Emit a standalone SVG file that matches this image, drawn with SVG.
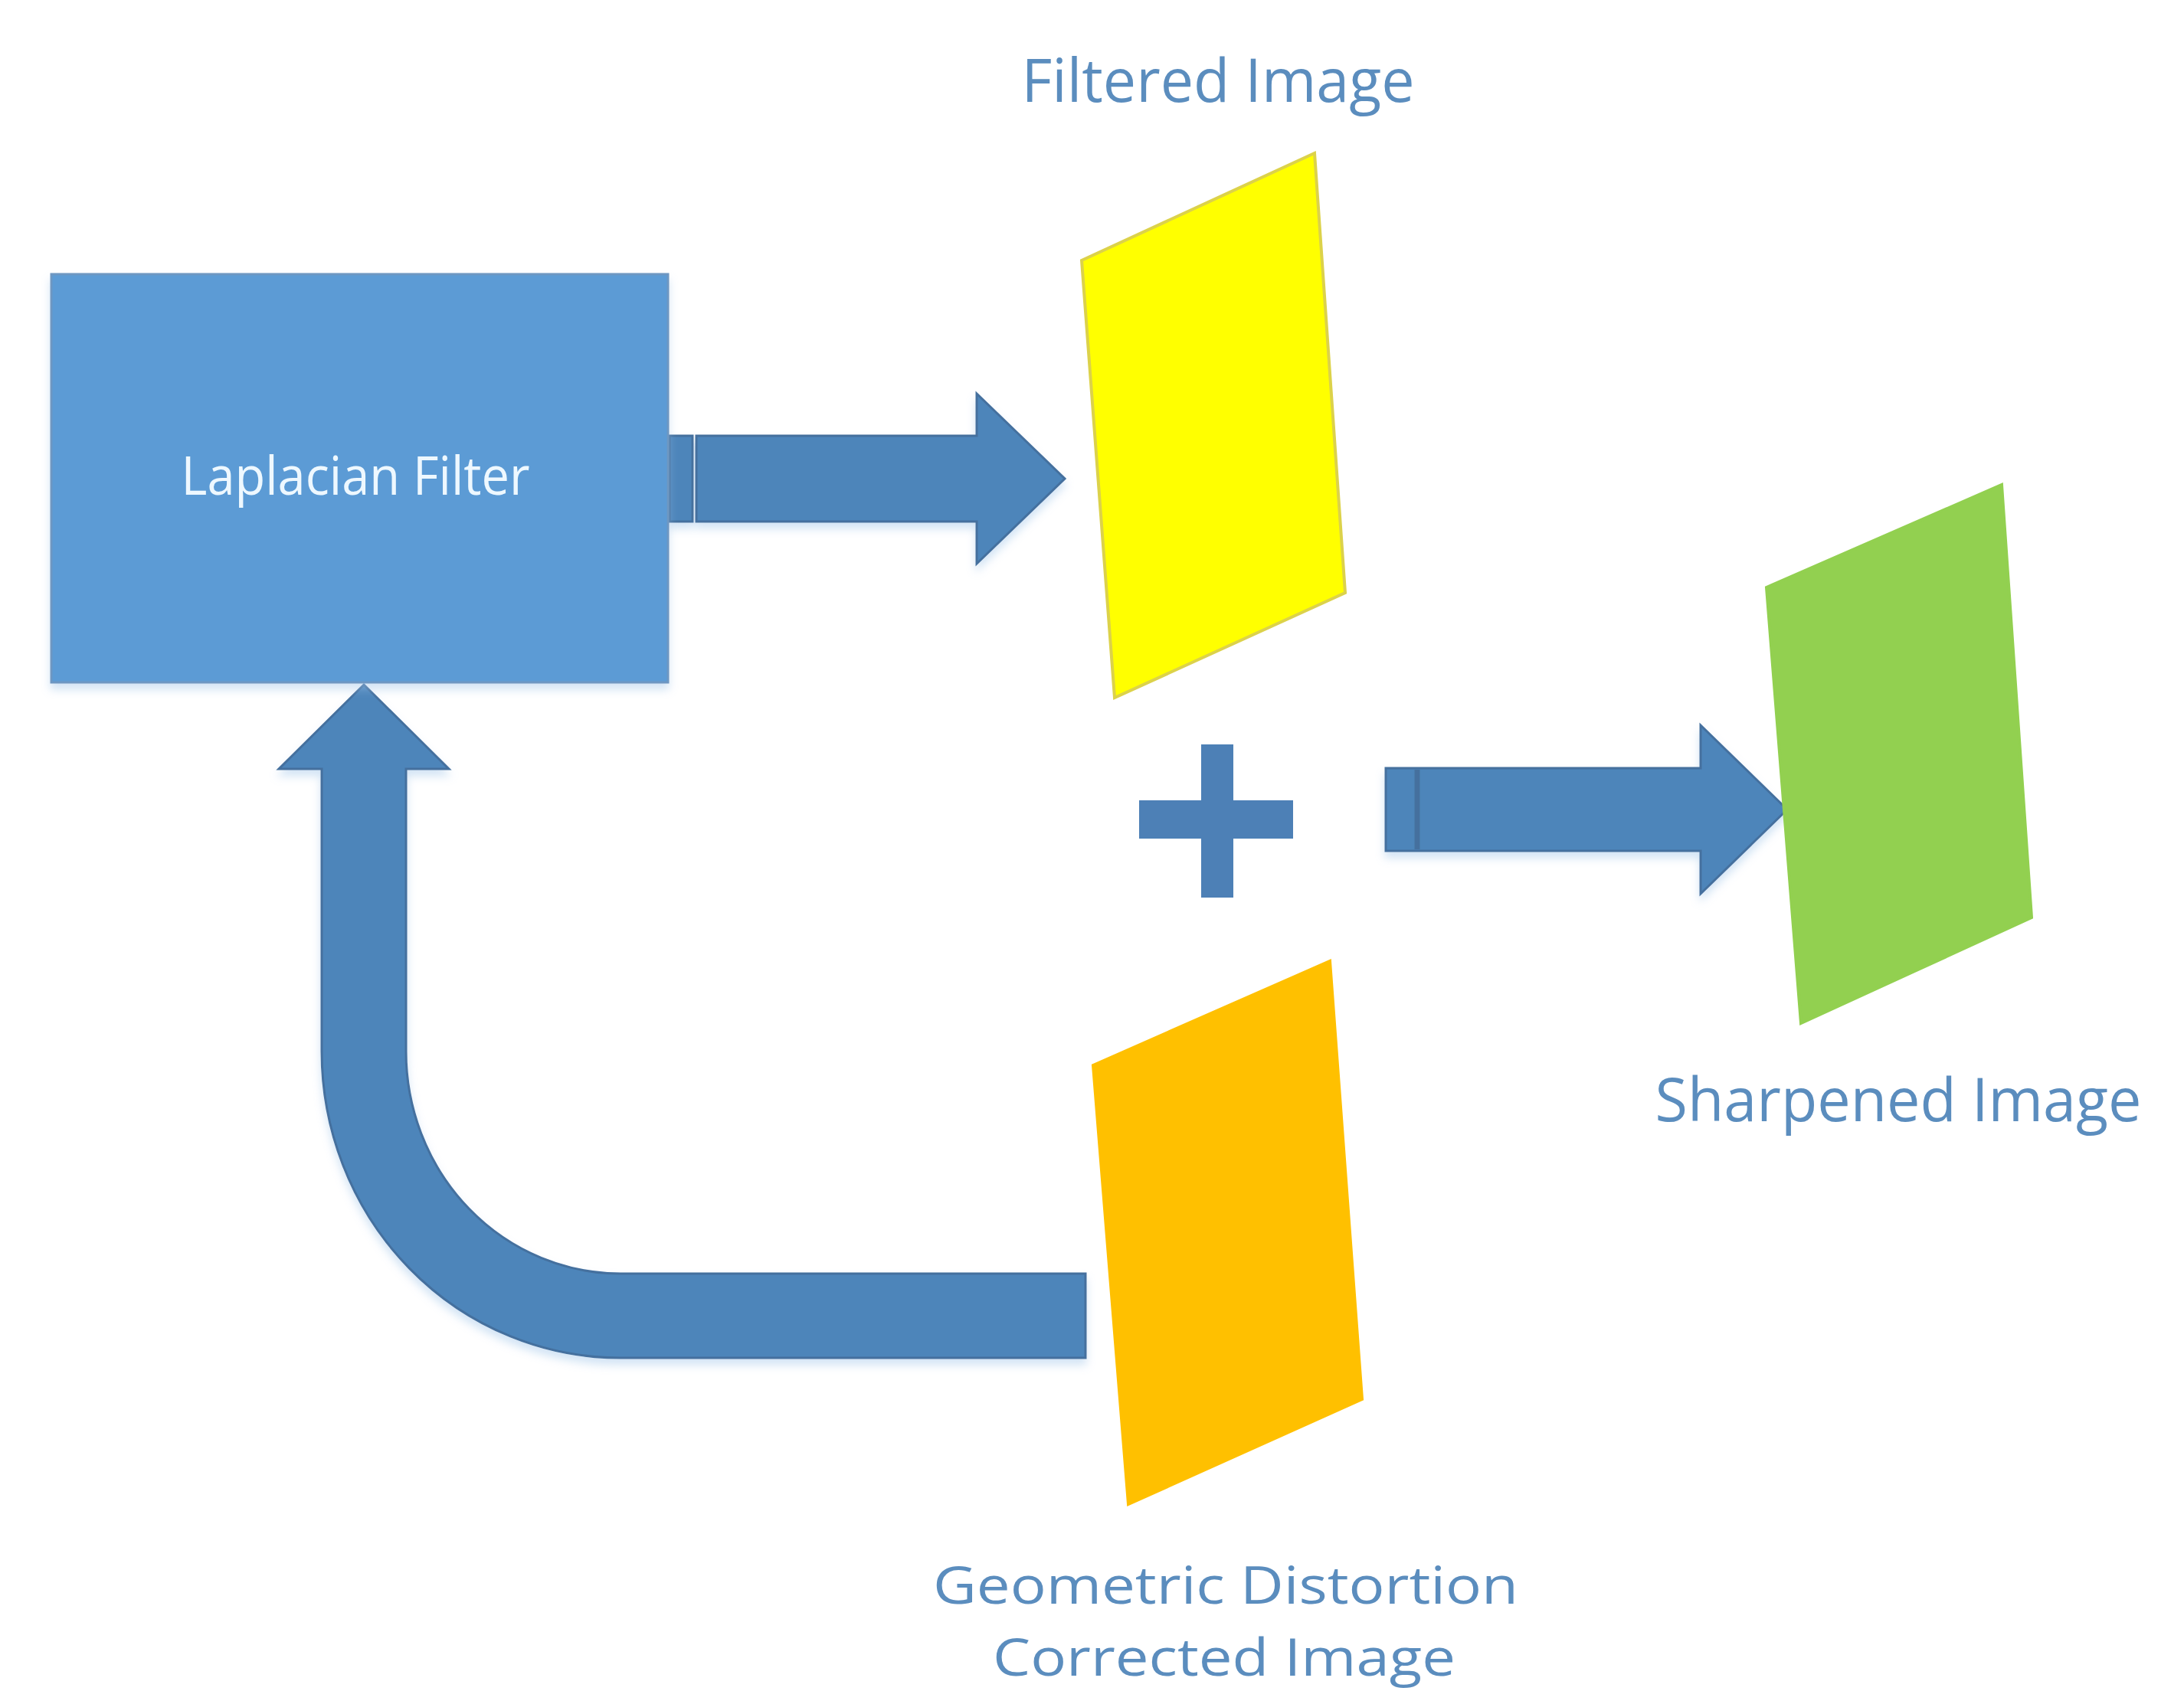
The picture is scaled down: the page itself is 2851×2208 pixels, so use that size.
<svg xmlns="http://www.w3.org/2000/svg" width="2851" height="2208" viewBox="0 0 2851 2208">
<style>
.arrow{fill:#4D85BA;stroke:#44709E;stroke-width:3;stroke-linejoin:miter}
.label{font-family:"Open Sans","Noto Sans","Liberation Sans",sans-serif;font-size:78px;fill:#5B8DBE;text-anchor:middle}
.label2{font-family:"Open Sans","Noto Sans","Liberation Sans",sans-serif;font-size:68px;fill:#5B8DBE;text-anchor:middle}
.inner{font-family:"Open Sans","Noto Sans","Liberation Sans",sans-serif;font-size:70px;fill:#EEF8FF;text-anchor:middle}
.sheet{stroke-width:4;stroke-linejoin:miter}
</style>
<defs>
<filter id="sh" x="-10%" y="-10%" width="130%" height="130%">
<feDropShadow dx="0" dy="8" stdDeviation="6" flood-color="#9EC3E8" flood-opacity="0.45"/>
</filter>
</defs>
<rect width="2851" height="2208" fill="#FFFFFF"/>

<g id="connectors">
  <g id="arrow-filter-to-filtered" filter="url(#sh)">
    <rect class="arrow" x="874" y="569" width="30" height="112"/>
    <path class="arrow" d="M909,569 H1275 V514 L1390,625 L1275,736 V681 H909 Z"/>
  </g>
  <g id="arrow-sum-to-sharpened" filter="url(#sh)">
    <path class="arrow" d="M1809,1003 H2220 V947 L2333,1057 L2220,1167 V1111 H1809 Z"/>
    <line x1="1850" y1="1005" x2="1850" y2="1109" stroke="#44709E" stroke-width="7"/>
  </g>
  <g id="arrow-corrected-to-filter" filter="url(#sh)">
    <path class="arrow" d="M1417,1663 H810 A280,290 0 0 1 530,1373 V1004 H586 L475,894 L364,1004 H420 V1373 A390,400 0 0 0 810,1773 H1417 Z"/>
  </g>
</g>

<g id="node-laplacian" filter="url(#sh)">
  <rect x="67" y="358" width="805" height="533" fill="#5B9BD5" stroke="#6E97C2" stroke-width="3"/>
  <text class="inner" x="464" y="646" textLength="455" lengthAdjust="spacingAndGlyphs">Laplacian Filter</text>
</g>

<g id="node-filtered">
  <polygon class="sheet" points="1412,340 1716,200 1756,774 1455,911" fill="#FFFF00" stroke="#DCD24A"/>
  <text class="label" x="1590" y="133" textLength="513" lengthAdjust="spacingAndGlyphs">Filtered Image</text>
</g>

<g id="node-plus">
  <rect x="1568" y="972" width="42" height="200" fill="#4D80B6"/>
  <rect x="1487" y="1045" width="201" height="50" fill="#4D80B6"/>
</g>

<g id="node-sharpened">
  <polygon class="sheet" points="2306,767 2613,633 2652,1198 2351,1336" fill="#92D050" stroke="#92D050"/>
  <text class="label" x="2478" y="1464" textLength="635" lengthAdjust="spacingAndGlyphs">Sharpened Image</text>
</g>

<g id="node-corrected">
  <polygon class="sheet" points="1427,1391 1736,1255 1778,1827 1473,1964" fill="#FFC000" stroke="#FFC000"/>
  <text class="label2" x="1600" y="2094" textLength="764" lengthAdjust="spacingAndGlyphs">Geometric Distortion</text>
  <text class="label2" x="1598" y="2188" textLength="604" lengthAdjust="spacingAndGlyphs">Corrected Image</text>
</g>
</svg>
